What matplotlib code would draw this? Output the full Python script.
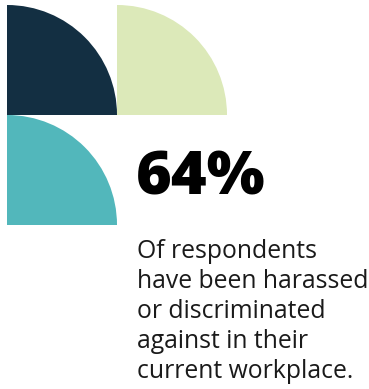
import matplotlib
matplotlib.use("Agg")
import matplotlib.pyplot as plt
from matplotlib.patches import Wedge

W, H = 369, 389

# Headline statistic and caption
stat_value = 64
caption_lines = [
    "Of respondents",
    "have been harassed",
    "or discriminated",
    "against in their",
    "current workplace.",
]

# Decorative quarter-circle tiles: (center x, center y, colour)
tile_cx = [7, 117, 7]
tile_cy = [115, 115, 225]
tile_colors = ["#132F42", "#DCE9B9", "#52B7BB"]
tile_radius = 110

fig = plt.figure(figsize=(W / 100, H / 100), dpi=100)
ax = fig.add_axes([0, 0, 1, 1])
ax.set_xlim(0, W)
ax.set_ylim(H, 0)
ax.axis("off")

for cx, cy, col in zip(tile_cx, tile_cy, tile_colors):
    ax.add_patch(Wedge((cx, cy), tile_radius, 270, 360, facecolor=col,
                       edgecolor="none", antialiased=True))

ax.text(136, 194, f"{stat_value}%", fontfamily="Open Sans", fontweight="heavy",
        fontsize=44, color="#000000", va="baseline", ha="left")

for i, line in enumerate(caption_lines):
    ax.text(137, 258 + 30 * i, line, fontfamily="Open Sans", fontsize=17.8,
            color="#1a1a1a", va="baseline", ha="left")

fig.savefig("out.png", dpi=100, facecolor="white")
